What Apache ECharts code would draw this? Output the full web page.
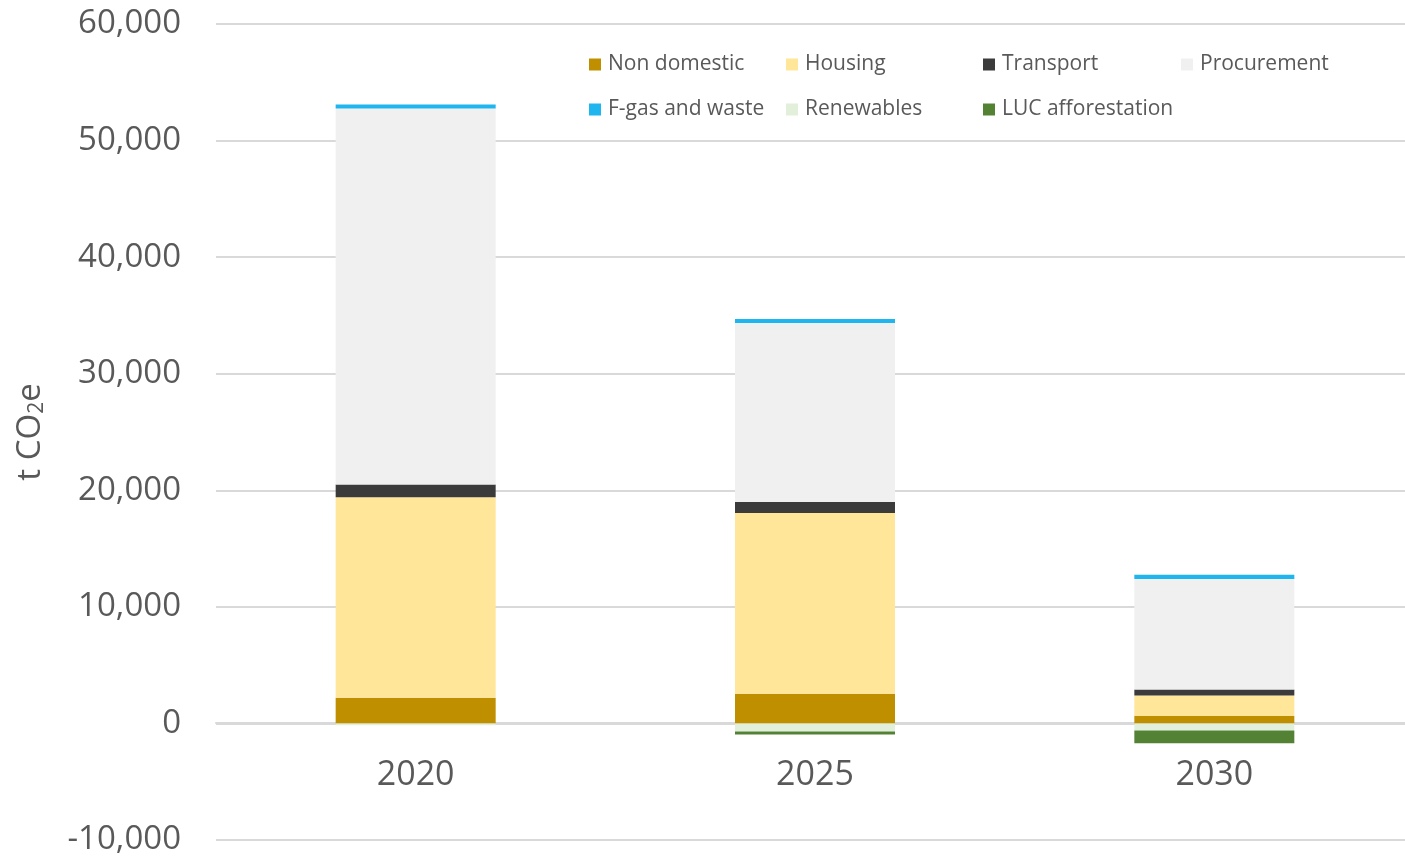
<!DOCTYPE html>
<html>
<head>
<meta charset="utf-8">
<script src="https://cdn.jsdelivr.net/npm/echarts@6/dist/echarts.min.js"></script>
<style>
html,body{margin:0;padding:0;background:#fff;}
#chart{width:1405px;height:859px;}
</style>
</head>
<body>
<div id="chart"></div>
<script>
var categories = ['2020', '2025', '2030'];
var nonDomestic = [2200, 2550, 650];
var housing = [17200, 15500, 1750];
var transport = [1100, 950, 500];
var procurement = [32250, 15350, 9500];
var fgasWaste = [350, 350, 360];
var renewables = [-150, -700, -600];
var lucAfforestation = [0, -250, -1100];
var yTicks = [-10000, 0, 10000, 20000, 30000, 40000, 50000, 60000];

var seriesNames = ['Non domestic', 'Housing', 'Transport', 'Procurement', 'F-gas and waste', 'Renewables', 'LUC afforestation'];
var seriesData = [nonDomestic, housing, transport, procurement, fgasWaste, renewables, lucAfforestation];
var colors = ['#BF8F00', '#FFE699', '#3B3B3B', '#F0F0F0', '#1FB5EE', '#E2EFDA', '#548235'];

var legendPos = [
  [589, 54], [786, 54], [983, 54], [1181, 54],
  [589, 99], [786, 99], [983, 99]
];

var chart = echarts.init(document.getElementById('chart'));
var font = '"Open Sans", "Noto Sans", sans-serif';

var legends = seriesNames.map(function (n, i) {
  return {
    data: [n],
    left: legendPos[i][0],
    top: legendPos[i][1],
    padding: 0,
    itemWidth: 12,
    itemHeight: 12,
    icon: 'rect',
    selectedMode: false,
    textStyle: { color: '#595959', fontSize: 21, fontFamily: font, padding: [0, 0, 0, 2] }
  };
});

var series = seriesNames.map(function (n, i) {
  return {
    name: n,
    type: 'bar',
    stack: 'total',
    barWidth: 160,
    data: seriesData[i],
    itemStyle: { color: colors[i] },
    emphasis: { disabled: true }
  };
});

chart.setOption({
  animation: false,
  color: colors,
  legend: legends,
  grid: { left: 216, right: -9, top: 24, bottom: 19, containLabel: false, outerBoundsMode: 'none' },
  xAxis: {
    type: 'category',
    data: categories,
    offset: -117,
    axisLine: { onZero: false, lineStyle: { color: '#D9D9D9', width: 2 } },
    axisTick: { show: false },
    axisLabel: { color: '#595959', fontSize: 34, fontFamily: font, margin: 35 },
    splitLine: { show: false }
  },
  yAxis: {
    type: 'value',
    min: yTicks[0],
    max: yTicks[yTicks.length - 1],
    interval: 10000,
    axisLine: { show: false },
    axisTick: { show: false },
    axisLabel: {
      color: '#595959', fontSize: 33, fontFamily: font, margin: 35,
      formatter: function (v) { return v.toLocaleString('en-US'); }
    },
    splitLine: { lineStyle: { color: '#D9D9D9', width: 2 } },
    name: '{a|t CO}{s|2}{a|e}',
    nameLocation: 'middle',
    nameGap: 168,
    nameRotate: 90,
    nameTextStyle: {
      rich: {
        a: { color: '#595959', fontSize: 33, fontFamily: font },
        s: { color: '#595959', fontSize: 21, fontFamily: font, padding: [14, 0, 0, 0] }
      }
    }
  },
  series: series
});
</script>
</body>
</html>
